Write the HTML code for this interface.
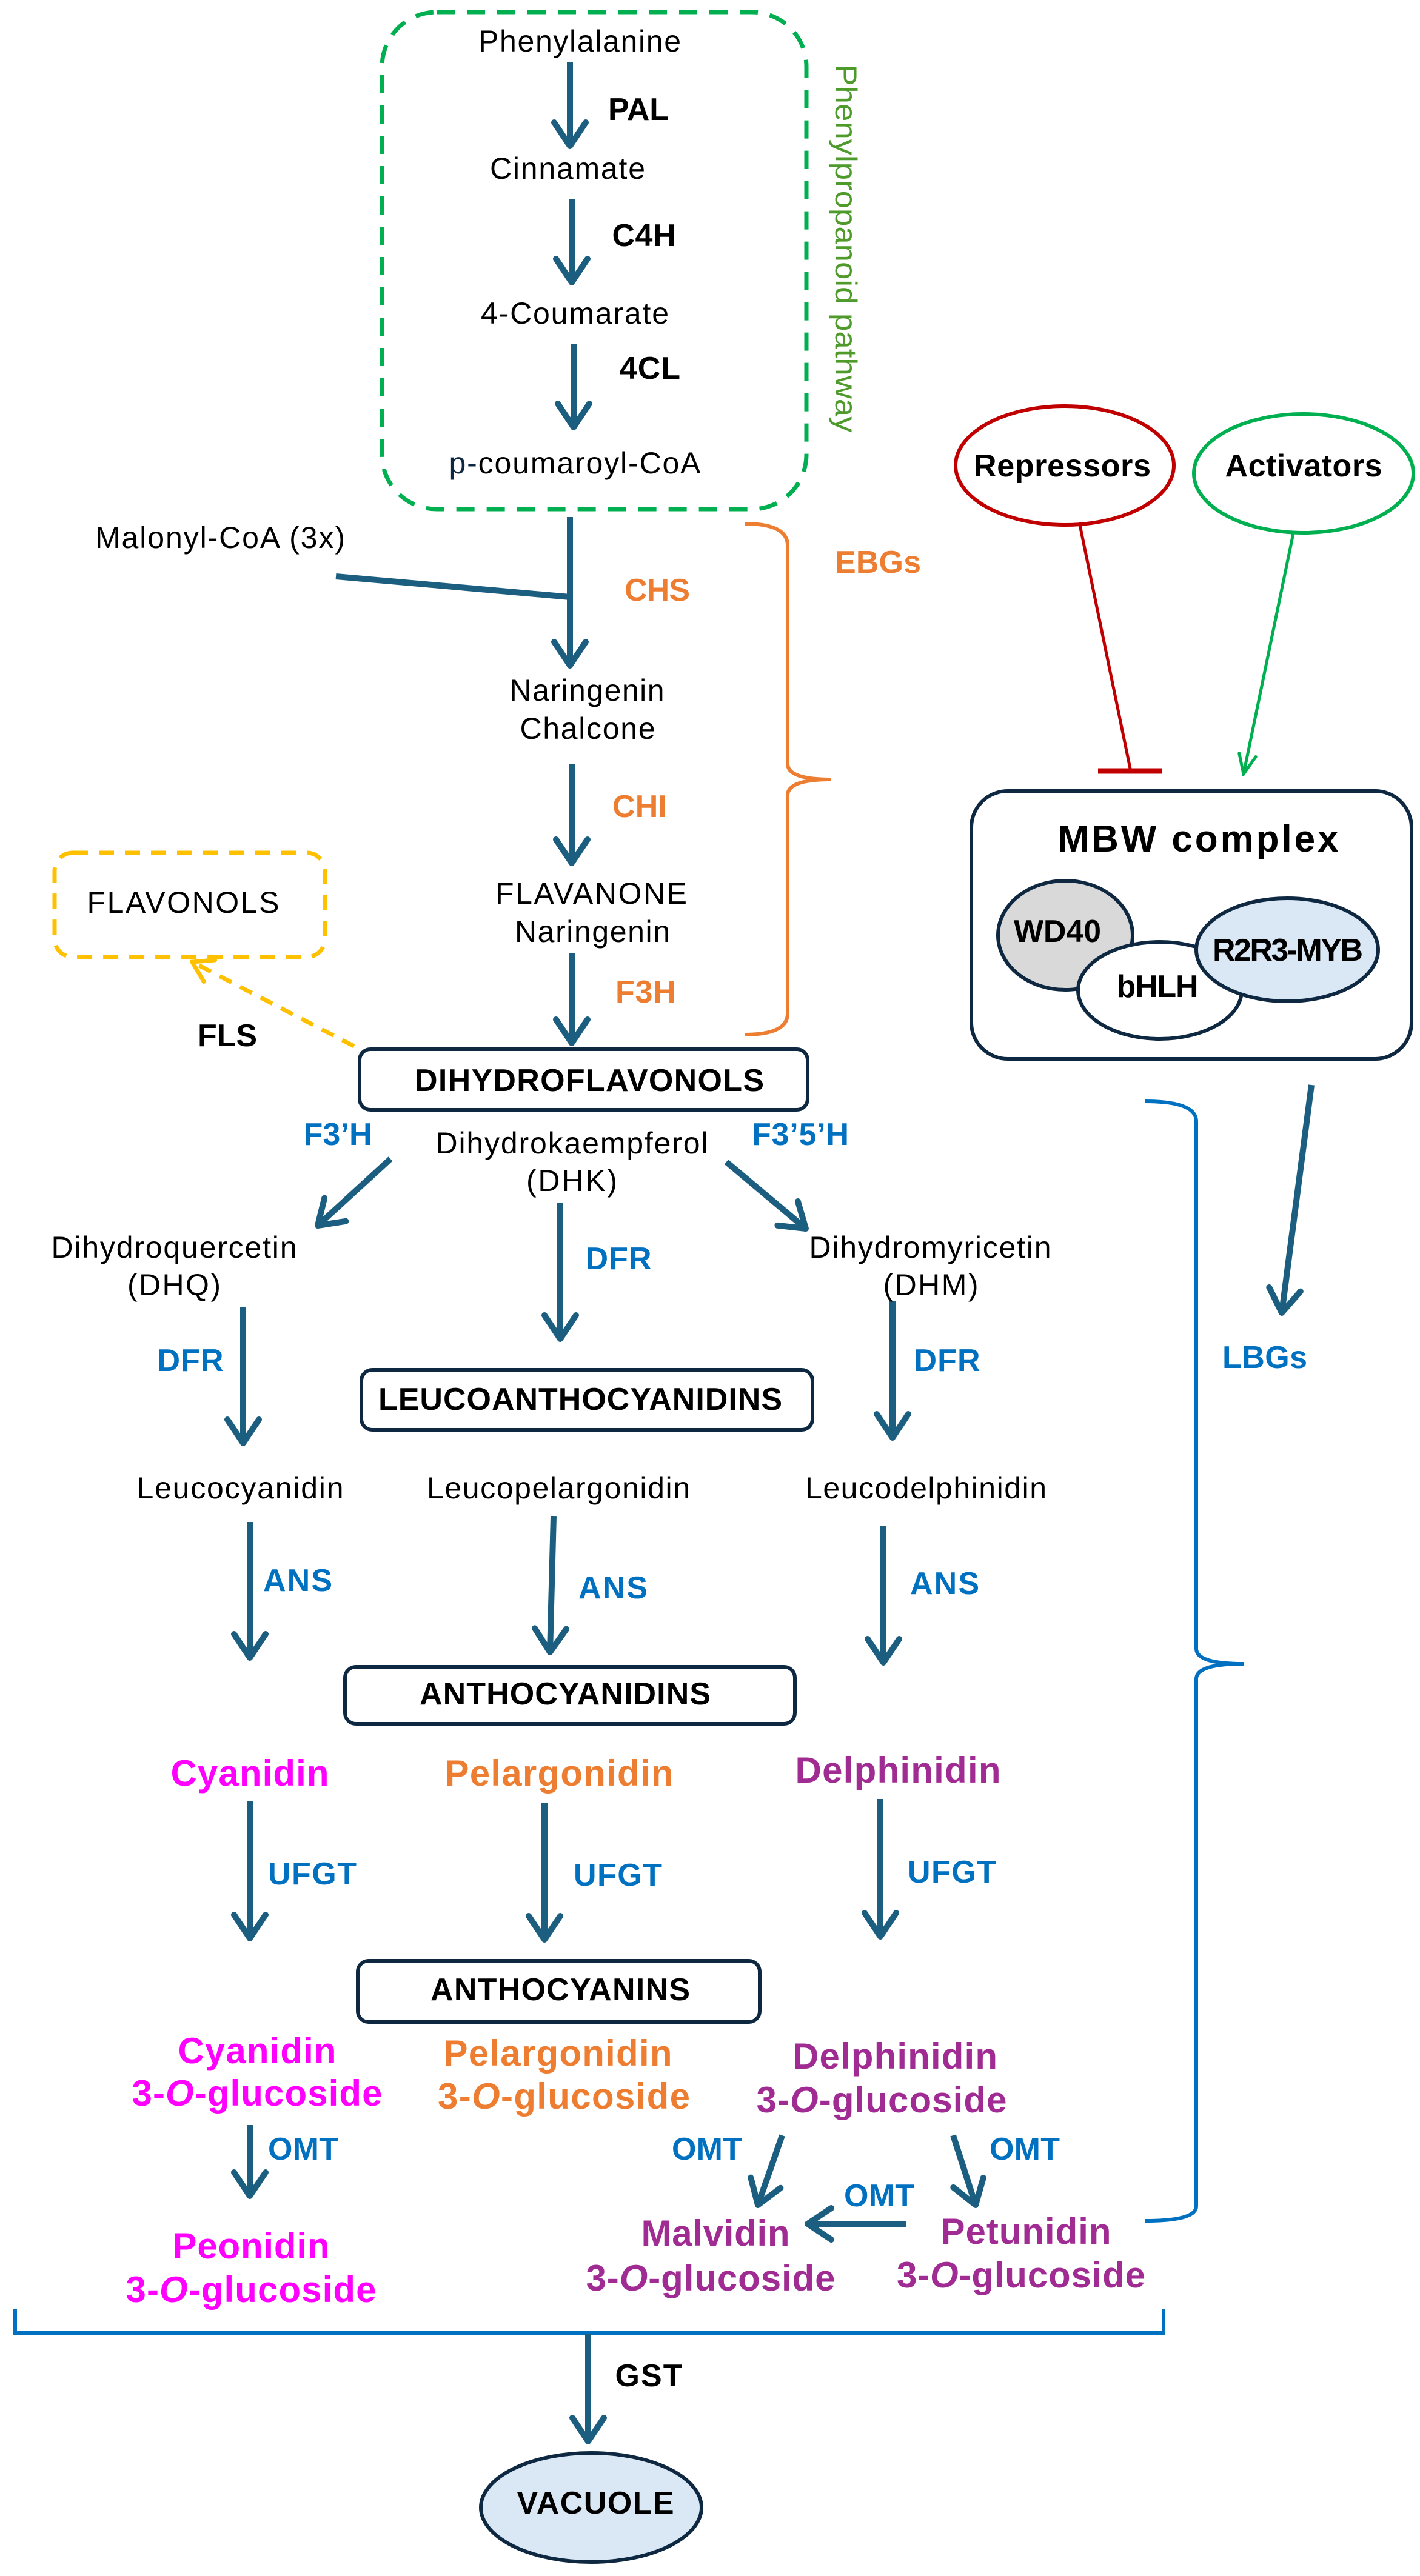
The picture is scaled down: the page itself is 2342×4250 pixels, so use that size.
<!DOCTYPE html>
<html><head><meta charset="utf-8"><style>html,body{margin:0;padding:0;background:#fff}svg{display:block}text{font-family:"Liberation Sans",Arial,sans-serif}</style></head>
<body>
<svg width="2342" height="4250" viewBox="0 0 2342 4250" xmlns="http://www.w3.org/2000/svg">
<defs>
<marker id="a" viewBox="0 0 56 64" refX="47" refY="32" markerWidth="56" markerHeight="64" markerUnits="userSpaceOnUse" orient="auto"><polyline points="8,6 47,32 8,58" fill="none" stroke="#1b5e7f" stroke-width="10" stroke-linecap="round" stroke-linejoin="round"/></marker>
<marker id="g" viewBox="0 0 40 40" refX="36" refY="20" markerWidth="40" markerHeight="40" markerUnits="userSpaceOnUse" orient="auto"><polyline points="4,6 36,20 4,34" fill="none" stroke="#00b050" stroke-width="5" stroke-linecap="round"/></marker>
<marker id="y" viewBox="0 0 40 50" refX="36" refY="25" markerWidth="40" markerHeight="50" markerUnits="userSpaceOnUse" orient="auto"><polyline points="4,5 36,25 4,45" fill="none" stroke="#ffc000" stroke-width="7" stroke-linecap="round"/></marker>
</defs>
<rect width="2342" height="4250" fill="#fff"/>

<rect x="630" y="20" width="700" height="820" rx="90" fill="none" stroke="#00b050" stroke-width="7" stroke-dasharray="30 20"/>
<rect x="90" y="1407" width="446" height="172" rx="30" fill="none" stroke="#ffc000" stroke-width="7" stroke-dasharray="25 18"/>
<rect x="593" y="1731" width="739" height="100" rx="18" fill="#fff" stroke="#0e2841" stroke-width="6"/>
<rect x="596" y="2260" width="744" height="99" rx="18" fill="#fff" stroke="#0e2841" stroke-width="6"/>
<rect x="569" y="2750" width="742" height="94" rx="18" fill="#fff" stroke="#0e2841" stroke-width="6"/>
<rect x="590" y="3235" width="663" height="101" rx="18" fill="#fff" stroke="#0e2841" stroke-width="6"/>
<rect x="1602" y="1305" width="726" height="442" rx="60" fill="#fff" stroke="#0e2841" stroke-width="6"/>
<ellipse cx="1757" cy="1543" rx="111" ry="90" fill="#d9d9d9" stroke="#0e2841" stroke-width="6"/>
<ellipse cx="1913" cy="1634" rx="135" ry="80" fill="#fff" stroke="#0e2841" stroke-width="6"/>
<ellipse cx="2123" cy="1567" rx="150" ry="85" fill="#dae8f5" stroke="#0e2841" stroke-width="6"/>
<ellipse cx="1756" cy="768" rx="180" ry="98" fill="none" stroke="#c00000" stroke-width="6"/>
<ellipse cx="2150" cy="781" rx="181" ry="98" fill="none" stroke="#00b050" stroke-width="6"/>
<ellipse cx="975" cy="4137" rx="182" ry="90" fill="#dae8f5" stroke="#0e2841" stroke-width="6"/>

<path d="M1228,864 Q1299,864 1299,900 L1299,1260 Q1299,1286 1370,1286 Q1299,1286 1299,1312 L1299,1672 Q1299,1707 1228,1707" fill="none" stroke="#ed7d31" stroke-width="6"/>
<path d="M1889,1817 Q1973,1817 1973,1850 L1973,2720 Q1973,2745 2051,2745 Q1973,2745 1973,2770 L1973,3640 Q1973,3664 1889,3664" fill="none" stroke="#0070c0" stroke-width="6"/>
<path d="M25,3810 L25,3849 L1919,3849 L1919,3810" fill="none" stroke="#0070c0" stroke-width="6"/>

<g stroke="#1b5e7f" stroke-width="10" fill="none" marker-end="url(#a)">
<line x1="940" y1="103" x2="940" y2="241"/>
<line x1="943" y1="328" x2="943" y2="466"/>
<line x1="946" y1="567" x2="946" y2="705"/>
<line x1="940" y1="853" x2="940" y2="1098"/>
<line x1="943" y1="1261" x2="943" y2="1424"/>
<line x1="943" y1="1573" x2="943" y2="1721"/>
<line x1="644" y1="1912" x2="524" y2="2022"/>
<line x1="1198" y1="1917" x2="1329" y2="2027"/>
<line x1="924" y1="1984" x2="924" y2="2209"/>
<line x1="401" y1="2157" x2="401" y2="2381"/>
<line x1="1472" y1="2147" x2="1472" y2="2372"/>
<line x1="412" y1="2511" x2="412" y2="2735"/>
<line x1="913" y1="2501" x2="907" y2="2726"/>
<line x1="1457" y1="2518" x2="1457" y2="2743"/>
<line x1="412" y1="2972" x2="412" y2="3198"/>
<line x1="898" y1="2975" x2="898" y2="3200"/>
<line x1="1452" y1="2968" x2="1452" y2="3195"/>
<line x1="412" y1="3506" x2="412" y2="3623"/>
<line x1="1290" y1="3523" x2="1250" y2="3638"/>
<line x1="1572" y1="3523" x2="1609" y2="3638"/>
<line x1="1494" y1="3669" x2="1332" y2="3669"/>
<line x1="970" y1="3850" x2="970" y2="4028"/>
<line x1="2163" y1="1790" x2="2114" y2="2166"/>
</g>
<line x1="554" y1="951" x2="940" y2="985" stroke="#1b5e7f" stroke-width="10"/>
<line x1="1781" y1="866" x2="1864" y2="1268" stroke="#c00000" stroke-width="5"/>
<line x1="1811" y1="1272" x2="1916" y2="1272" stroke="#c00000" stroke-width="9"/>
<line x1="2133" y1="880" x2="2051" y2="1277" stroke="#00b050" stroke-width="5" marker-end="url(#g)"/>
<line x1="584" y1="1726" x2="317" y2="1587" stroke="#ffc000" stroke-width="7" stroke-dasharray="22 16" marker-end="url(#y)"/>

<g font-size="50" fill="#000" text-anchor="middle" lengthAdjust="spacingAndGlyphs">
<text x="956" y="85" textLength="334">Phenylalanine</text>
<text x="936" y="295" textLength="256">Cinnamate</text>
<text x="948" y="534" textLength="310">4-Coumarate</text>
<text x="948" y="781" textLength="415"><tspan fill="#0e2841">p-</tspan>coumaroyl-CoA</text>
<text x="363" y="904" textLength="412">Malonyl-CoA (3x)</text>
<text x="968" y="1156" textLength="255">Naringenin</text>
<text x="969" y="1219" textLength="223">Chalcone</text>
<text x="975" y="1491" textLength="316">FLAVANONE</text>
<text x="977" y="1554" textLength="256">Naringenin</text>
<text x="302" y="1506" textLength="317">FLAVONOLS</text>
<text x="943" y="1903" textLength="449">Dihydrokaempferol</text>
<text x="943" y="1965" textLength="150">(DHK)</text>
<text x="287" y="2075" textLength="405">Dihydroquercetin</text>
<text x="287" y="2137" textLength="154">(DHQ)</text>
<text x="1534" y="2075" textLength="399">Dihydromyricetin</text>
<text x="1535" y="2137" textLength="157">(DHM)</text>
<text x="396" y="2472" textLength="341">Leucocyanidin</text>
<text x="921" y="2472" textLength="434">Leucopelargonidin</text>
<text x="1527" y="2472" textLength="398">Leucodelphinidin</text>
</g>
<text transform="translate(1378,410) rotate(90)" font-size="50" fill="#4e9a2a" text-anchor="middle" textLength="607" lengthAdjust="spacingAndGlyphs">Phenylpropanoid pathway</text>

<g font-size="52" font-weight="bold" fill="#000" text-anchor="middle" lengthAdjust="spacingAndGlyphs">
<text x="1053" y="198" textLength="100">PAL</text>
<text x="1062" y="406" textLength="105">C4H</text>
<text x="1072" y="625" textLength="100">4CL</text>
<text x="1752" y="786" textLength="292">Repressors</text>
<text x="2150" y="786" textLength="259">Activators</text>
<text x="375" y="1726" textLength="98">FLS</text>
<text x="972" y="1800" textLength="576">DIHYDROFLAVONOLS</text>
<text x="957" y="2326" textLength="666">LEUCOANTHOCYANIDINS</text>
<text x="932" y="2812" textLength="480">ANTHOCYANIDINS</text>
<text x="924" y="3300" textLength="428">ANTHOCYANINS</text>
<text x="1070" y="3937" textLength="111">GST</text>
<text x="982" y="4147" textLength="259">VACUOLE</text>
<text x="1976" y="1405" font-size="62" textLength="463">MBW complex</text>
<text x="1744" y="1554" textLength="144">WD40</text>
<text x="1909" y="1645" textLength="135">bHLH</text>
<text x="2124" y="1585" textLength="248">R2R3-MYB</text>
</g>

<g font-size="52" font-weight="bold" fill="#ed7d31" text-anchor="middle" lengthAdjust="spacingAndGlyphs">
<text x="1084" y="991" textLength="108">CHS</text>
<text x="1448" y="945" textLength="142">EBGs</text>
<text x="1055" y="1348" textLength="90">CHI</text>
<text x="1065" y="1654" textLength="100">F3H</text>
</g>

<g font-size="52" font-weight="bold" fill="#0070c0" text-anchor="middle" lengthAdjust="spacingAndGlyphs">
<text x="557" y="1889" textLength="113">F3’H</text>
<text x="1320" y="1889" textLength="160">F3’5’H</text>
<text x="1020" y="2094" textLength="109">DFR</text>
<text x="314" y="2262" textLength="109">DFR</text>
<text x="1562" y="2262" textLength="109">DFR</text>
<text x="2086" y="2257" textLength="140">LBGs</text>
<text x="491" y="2625" textLength="114">ANS</text>
<text x="1011" y="2637" textLength="114">ANS</text>
<text x="1558" y="2630" textLength="114">ANS</text>
<text x="515" y="3109" textLength="146">UFGT</text>
<text x="1019" y="3111" textLength="146">UFGT</text>
<text x="1570" y="3106" textLength="146">UFGT</text>
<text x="500" y="3563" textLength="116">OMT</text>
<text x="1166" y="3563" textLength="116">OMT</text>
<text x="1690" y="3563" textLength="116">OMT</text>
<text x="1450" y="3640" textLength="116">OMT</text>
</g>

<g font-size="60" font-weight="bold" text-anchor="middle" lengthAdjust="spacingAndGlyphs">
<text x="412" y="2946" fill="#ff00ff" textLength="261">Cyanidin</text>
<text x="922" y="2946" fill="#ed7d31" textLength="377">Pelargonidin</text>
<text x="1481" y="2941" fill="#a02b93" textLength="339">Delphinidin</text>
<text x="424" y="3404" fill="#ff00ff" textLength="261">Cyanidin</text>
<text x="424" y="3474" fill="#ff00ff" textLength="413">3-<tspan font-style="italic">O</tspan>-glucoside</text>
<text x="920" y="3408" fill="#ed7d31" textLength="377">Pelargonidin</text>
<text x="930" y="3479" fill="#ed7d31" textLength="416">3-<tspan font-style="italic">O</tspan>-glucoside</text>
<text x="1476" y="3413" fill="#a02b93" textLength="338">Delphinidin</text>
<text x="1454" y="3485" fill="#a02b93" textLength="413">3-<tspan font-style="italic">O</tspan>-glucoside</text>
<text x="414" y="3726" fill="#ff00ff" textLength="259">Peonidin</text>
<text x="414" y="3798" fill="#ff00ff" textLength="413">3-<tspan font-style="italic">O</tspan>-glucoside</text>
<text x="1180" y="3705" fill="#a02b93" textLength="245">Malvidin</text>
<text x="1172" y="3779" fill="#a02b93" textLength="411">3-<tspan font-style="italic">O</tspan>-glucoside</text>
<text x="1692" y="3702" fill="#a02b93" textLength="281">Petunidin</text>
<text x="1684" y="3774" fill="#a02b93" textLength="410">3-<tspan font-style="italic">O</tspan>-glucoside</text>
</g>
</svg>
</body></html>
